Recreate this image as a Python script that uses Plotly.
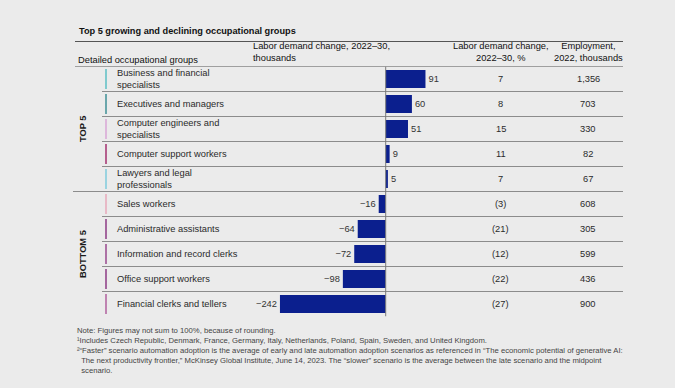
import plotly.graph_objects as go

# ---------------- data ----------------
groups = [
    "Business and financial<br>specialists",
    "Executives and managers",
    "Computer engineers and<br>specialists",
    "Computer support workers",
    "Lawyers and legal<br>professionals",
    "Sales workers",
    "Administrative assistants",
    "Information and record clerks",
    "Office support workers",
    "Financial clerks and tellers",
]
change_k = [91, 60, 51, 9, 5, -16, -64, -72, -98, -242]
change_pct = ["7", "8", "15", "11", "7", "(3)", "(21)", "(12)", "(22)", "(27)"]
employment = ["1,356", "703", "330", "82", "67", "608", "305", "599", "436", "900"]
marker_colors = ["#5cbfc4", "#3f8f96", "#d9a6d6", "#a3306f", "#7fcbdc",
                 "#e7a9ba", "#8d3a84", "#99488e", "#8d3a84", "#b0609e"]
sections = ["TOP 5", "BOTTOM 5"]
section_rows = [2, 7]

title = "Top 5 growing and declining occupational groups"
hdr_group = "Detailed occupational groups"
hdr_change = "Labor demand change, 2022–30,<br>thousands"
hdr_pct = "Labor demand change,<br>2022–30, %"
hdr_emp = "Employment,<br>2022, thousands"
notes = [
    "Note: Figures may not sum to 100%, because of rounding.",
    "¹Includes Czech Republic, Denmark, France, Germany, Italy, Netherlands, Poland, Spain, Sweden, and United Kingdom.",
    "²“Faster” scenario automation adoption is the average of early and late automation adoption scenarios as referenced in “The economic potential of generative AI:",
    "  The next productivity frontier,” McKinsey Global Institute, June 14, 2023. The “slower” scenario is the average between the late scenario and the midpoint",
    "  scenario.",
]

# ---------------- layout helpers ----------------
W, H = 675, 388
FONT = "Liberation Sans, Arial, sans-serif"
BG = "#ebebeb"
BAR = "#0b1f8e"
FS = 9.3


def px(x):
    return x / W


def py(y):
    return 1 - y / H


rows_top, rows_bot = 66.5, 316.5
zero_px, scale = 385.7, 0.437
xd0, xd1 = 250, 450
x_range = [(xd0 - zero_px) / scale, (xd1 - zero_px) / scale]
n = len(groups)
ys = list(range(n))

labels = [("\u2212" + str(-v)) if v < 0 else str(v) for v in change_k]

fig = go.Figure()
fig.add_trace(go.Bar(
    y=ys, x=change_k, orientation="h", width=0.72,
    marker=dict(color=BAR, line=dict(width=0)),
    text=labels, textposition="outside", cliponaxis=False,
    constraintext="none",
    textfont=dict(family=FONT, size=FS, color="#333333"),
    hoverinfo="skip",
))

shapes = []
# header lines
shapes.append(dict(type="line", xref="paper", yref="paper", x0=px(75), x1=px(623),
                   y0=py(41.5), y1=py(41.5), line=dict(color="#555555", width=1)))
shapes.append(dict(type="line", xref="paper", yref="y", x0=px(75), x1=px(623),
                   y0=-0.5, y1=-0.5, line=dict(color="#555555", width=1)))
# row separators
for i in range(n - 1):
    x0 = px(73) if i == 4 else px(102)
    shapes.append(dict(type="line", xref="paper", yref="y", x0=x0, x1=px(623),
                       y0=i + 0.5, y1=i + 0.5, line=dict(color="#8c8c8c", width=1)))
# colored markers
for i, c in enumerate(marker_colors):
    shapes.append(dict(type="line", xref="paper", yref="y", x0=px(106), x1=px(106),
                       y0=i - 0.4, y1=i + 0.4, line=dict(color=c, width=1.5)))
# zero line
shapes.append(dict(type="line", xref="x", yref="y", x0=0, x1=0, y0=-0.5, y1=n - 0.5,
                   line=dict(color="#7a7a7a", width=1), layer="above"))

ann = []
for i, g in enumerate(groups):
    ann.append(dict(xref="paper", yref="y", x=px(115), y=i, text=g, showarrow=False,
                    xanchor="left", yanchor="middle", align="left",
                    font=dict(family=FONT, size=FS, color="#2a2a2a")))
    ann.append(dict(xref="paper", yref="y", x=px(500.5), y=i, text=change_pct[i], showarrow=False,
                    xanchor="center", yanchor="middle",
                    font=dict(family=FONT, size=FS, color="#2a2a2a")))
    ann.append(dict(xref="paper", yref="y", x=px(588), y=i, text=employment[i], showarrow=False,
                    xanchor="center", yanchor="middle",
                    font=dict(family=FONT, size=FS, color="#2a2a2a")))
for s, r in zip(sections, section_rows):
    ann.append(dict(xref="paper", yref="y", x=px(83), y=r, text="<b>" + s + "</b>", showarrow=False,
                    textangle=-90, xanchor="center", yanchor="middle",
                    font=dict(family=FONT, size=FS, color="#1a1a1a")))

ann.append(dict(xref="paper", yref="paper", x=px(77), y=py(31), text="<b>" + title + "</b>", showarrow=False,
                xanchor="left", yanchor="middle", font=dict(family=FONT, size=9.2, color="#111111")))
ann.append(dict(xref="paper", yref="paper", x=px(76), y=py(60), text=hdr_group, showarrow=False,
                xanchor="left", yanchor="middle", font=dict(family=FONT, size=FS, color="#111111")))
ann.append(dict(xref="paper", yref="paper", x=px(251), y=py(52.5), text=hdr_change, showarrow=False,
                xanchor="left", yanchor="middle", align="left",
                font=dict(family=FONT, size=FS, color="#111111")))
ann.append(dict(xref="paper", yref="paper", x=px(501), y=py(52.5), text=hdr_pct, showarrow=False,
                xanchor="center", yanchor="middle", align="center",
                font=dict(family=FONT, size=FS, color="#111111")))
ann.append(dict(xref="paper", yref="paper", x=px(588), y=py(52.5), text=hdr_emp, showarrow=False,
                xanchor="center", yanchor="middle", align="center",
                font=dict(family=FONT, size=FS, color="#111111")))
ann.append(dict(xref="paper", yref="paper", x=px(75), y=py(324), text="<br>".join(notes), showarrow=False,
                xanchor="left", yanchor="top", align="left",
                font=dict(family=FONT, size=7.7, color="#444444")))

fig.update_layout(
    width=W, height=H, margin=dict(l=0, r=0, t=0, b=0),
    paper_bgcolor=BG, plot_bgcolor=BG,
    showlegend=False, hovermode=False,
    shapes=shapes, annotations=ann,
    xaxis=dict(domain=[px(xd0), px(xd1)], range=x_range, visible=False, fixedrange=True),
    yaxis=dict(domain=[py(rows_bot), py(rows_top)], range=[n - 0.5, -0.5], visible=False, fixedrange=True),
)

fig.write_html(
    "out.html",
    config={"displayModeBar": False},
    post_script="document.body.style.margin='0';document.body.style.overflow='hidden';document.body.style.background='" + BG + "';",
)
